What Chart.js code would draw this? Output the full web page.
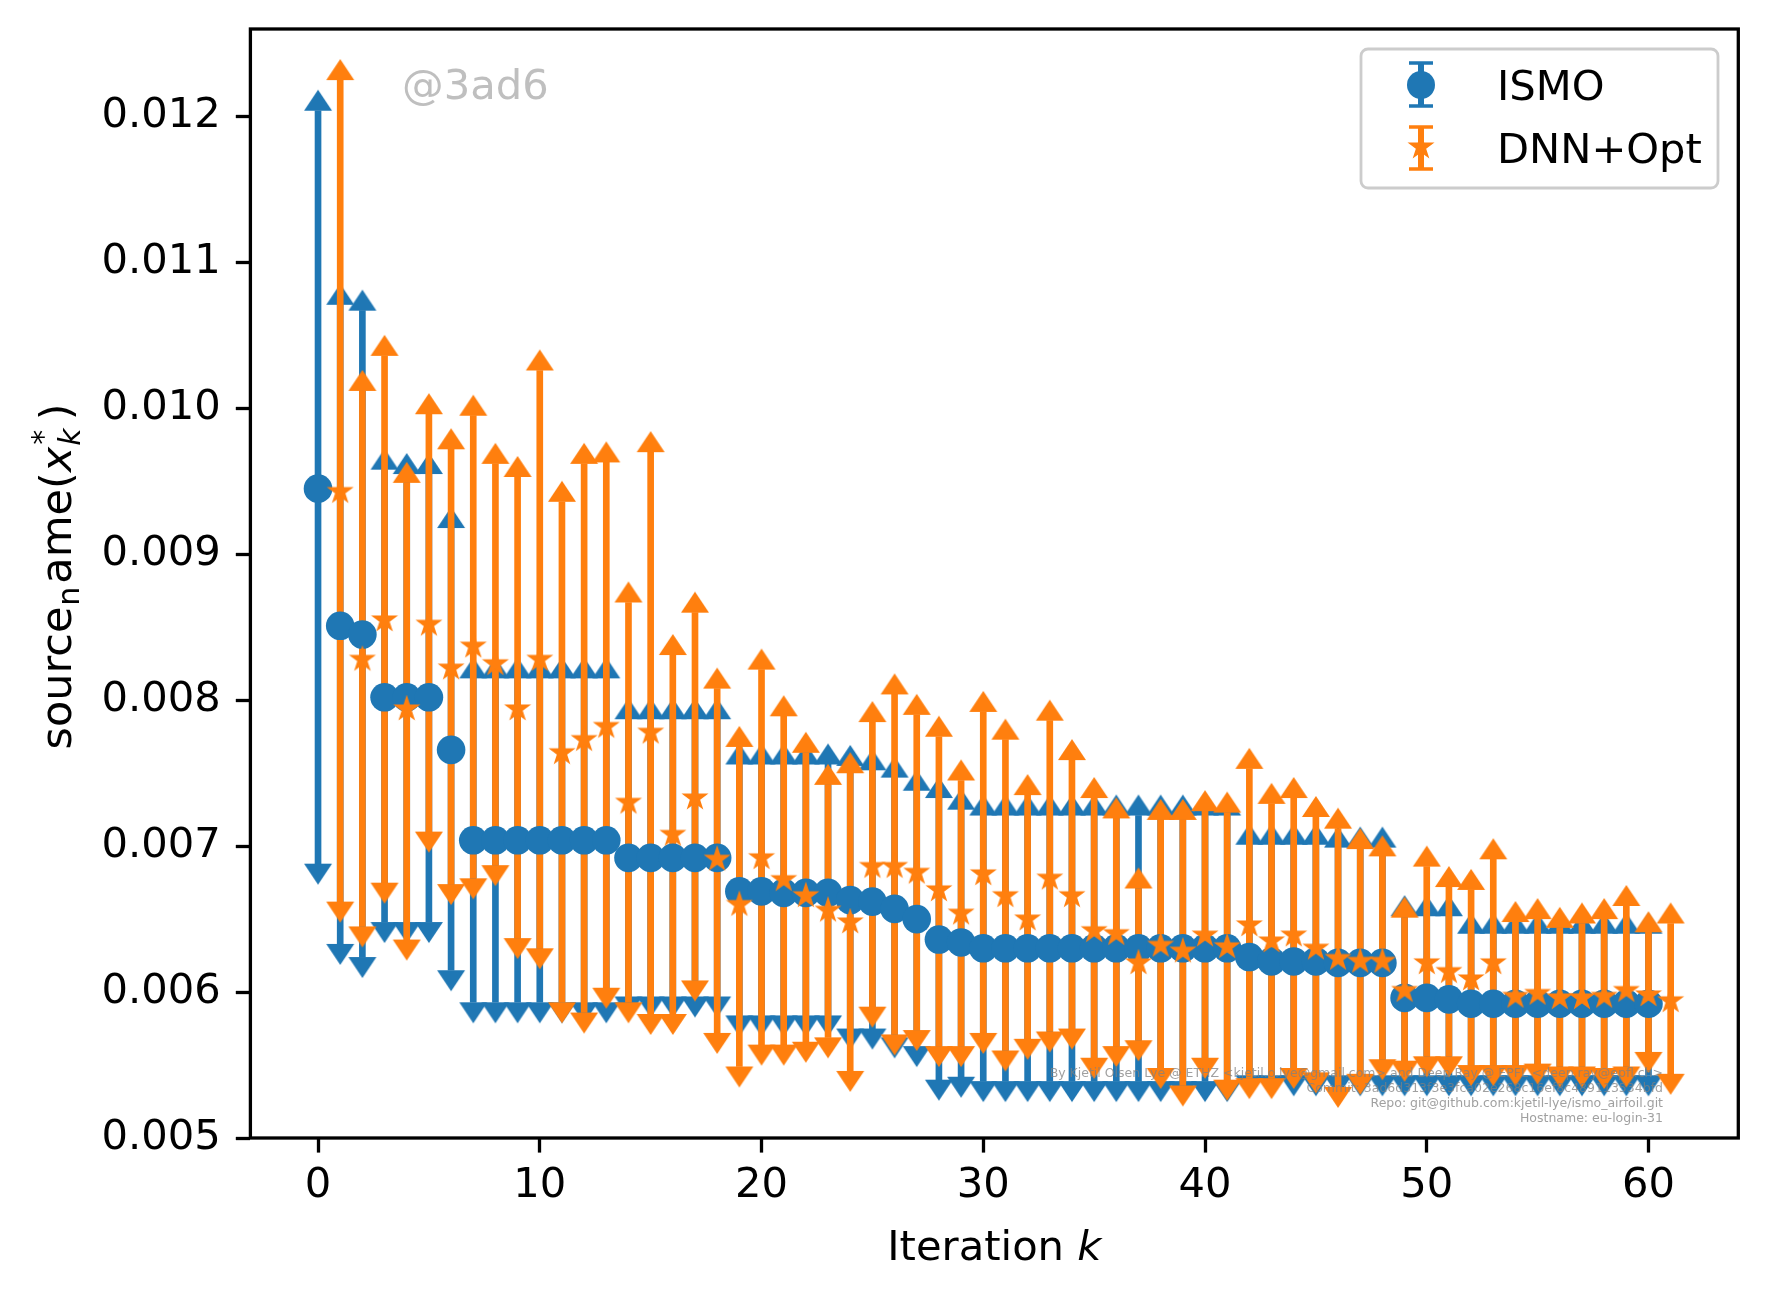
<!DOCTYPE html>
<html>
<head>
<meta charset="utf-8">
<script src="https://cdn.jsdelivr.net/npm/chart.js@4.4.1/dist/chart.umd.min.js"></script>
<style>
html,body{margin:0;padding:0;background:#ffffff;}
#wrap{width:1767px;height:1298px;position:relative;}
</style>
</head>
<body>
<div id="wrap"><canvas id="c" width="1767" height="1298"></canvas></div>
<script>
// ---------------- data ----------------
const seriesNames = ['ISMO', 'DNN+Opt'];

const ismoIter = [0,1,2,3,4,5,6,7,8,9,10,11,12,13,14,15,16,17,18,19,20,21,22,23,24,25,26,27,28,29,30,
  31,32,33,34,35,36,37,38,39,40,41,42,43,44,45,46,47,48,49,50,51,52,53,54,55,56,57,58,59,60];
const ismoMean = [0.00945,0.00851,0.00845,0.00802,0.00802,0.00802,0.00766,0.00704,0.00704,0.00704,
  0.00704,0.00704,0.00704,0.00704,0.00692,0.00692,0.00692,0.00692,0.00692,0.00669,
  0.00669,0.00668,0.00668,0.00668,0.00663,0.00662,0.00657,0.00650,0.00636,0.00634,
  0.00630,0.00630,0.00630,0.00630,0.00630,0.00630,0.00630,0.00630,0.00630,0.00630,
  0.00630,0.00630,0.00624,0.00621,0.00621,0.00621,0.00620,0.00620,0.00620,0.00596,
  0.00596,0.00595,0.00592,0.00592,0.00592,0.00592,0.00592,0.00592,0.00592,0.00592,0.00592];
const ismoUpper = [0.01204,0.01071,0.01067,0.00958,0.00955,0.00955,0.00918,0.00815,0.00815,0.00815,
  0.00815,0.00815,0.00815,0.00815,0.00787,0.00787,0.00787,0.00787,0.00787,0.00756,
  0.00756,0.00756,0.00756,0.00756,0.00755,0.00752,0.00747,0.00738,0.00733,0.00725,
  0.00721,0.00721,0.00721,0.00721,0.00721,0.00721,0.00721,0.00721,0.00721,0.00721,
  0.00721,0.00721,0.00701,0.00701,0.00701,0.00701,0.00699,0.00699,0.00699,0.00652,
  0.00652,0.00652,0.00640,0.00640,0.00640,0.00640,0.00640,0.00640,0.00640,0.00640,0.00640];
const ismoLower = [0.00688,0.00633,0.00624,0.00648,0.00648,0.00648,0.00615,0.00593,0.00593,0.00593,
  0.00593,0.00593,0.00593,0.00593,0.00597,0.00597,0.00597,0.00597,0.00597,0.00584,
  0.00584,0.00584,0.00584,0.00584,0.00575,0.00575,0.00569,0.00563,0.00540,0.00542,
  0.00539,0.00539,0.00539,0.00539,0.00539,0.00539,0.00539,0.00539,0.00539,0.00539,
  0.00539,0.00539,0.00543,0.00543,0.00543,0.00543,0.00543,0.00543,0.00543,0.00543,
  0.00543,0.00543,0.00543,0.00543,0.00543,0.00543,0.00543,0.00543,0.00543,0.00543,0.00543];

const dnnIter = [1,2,3,4,5,6,7,8,9,10,11,12,13,14,15,16,17,18,19,20,21,22,23,24,25,26,27,28,29,30,
  31,32,33,34,35,36,37,38,39,40,41,42,43,44,45,46,47,48,49,50,51,52,53,54,55,56,57,58,59,60,61];
const dnnMean = [0.00943,0.00828,0.00855,0.00794,0.00852,0.00822,0.00837,0.00825,0.00794,0.00828,
  0.00764,0.00773,0.00782,0.00730,0.00778,0.00708,0.00733,0.00691,0.00660,0.00692,
  0.00677,0.00666,0.00656,0.00648,0.00686,0.00686,0.00682,0.00670,0.00654,0.00681,
  0.00666,0.00650,0.00678,0.00666,0.00642,0.00640,0.00620,0.00632,0.00628,0.00639,
  0.00631,0.00646,0.00635,0.00639,0.00630,0.00623,0.00621,0.00621,0.00601,0.00620,
  0.00614,0.00609,0.00620,0.00597,0.00599,0.00596,0.00596,0.00597,0.00601,0.00598,0.00594];
const dnnUpper = [0.01225,0.01012,0.01036,0.00949,0.00996,0.00972,0.00995,0.00962,0.00953,0.01026,
  0.00936,0.00962,0.00963,0.00867,0.00970,0.00831,0.00860,0.00808,0.00768,0.00821,
  0.00789,0.00764,0.00742,0.00750,0.00785,0.00804,0.00790,0.00775,0.00745,0.00792,
  0.00773,0.00735,0.00786,0.00759,0.00733,0.00719,0.00671,0.00718,0.00718,0.00724,
  0.00723,0.00753,0.00729,0.00733,0.00720,0.00712,0.00698,0.00693,0.00651,0.00686,
  0.00672,0.00670,0.00691,0.00648,0.00650,0.00644,0.00647,0.00650,0.00659,0.00641,0.00647];
const dnnLower = [0.00662,0.00645,0.00675,0.00636,0.00710,0.00674,0.00678,0.00687,0.00637,0.00630,
  0.00593,0.00586,0.00603,0.00593,0.00585,0.00585,0.00608,0.00572,0.00549,0.00564,
  0.00564,0.00566,0.00569,0.00546,0.00590,0.00571,0.00574,0.00563,0.00563,0.00572,
  0.00560,0.00568,0.00573,0.00575,0.00555,0.00563,0.00567,0.00548,0.00536,0.00555,
  0.00540,0.00541,0.00541,0.00548,0.00545,0.00535,0.00544,0.00554,0.00553,0.00556,
  0.00556,0.00550,0.00550,0.00550,0.00551,0.00549,0.00549,0.00548,0.00549,0.00559,0.00544];

const xTicks = [0, 10, 20, 30, 40, 50, 60];
const yTicks = [0.005, 0.006, 0.007, 0.008, 0.009, 0.010, 0.011, 0.012];
const xRange = [-3.05, 64.05];
const yRange = [0.005, 0.0126];

const watermark = '@3ad6';
const infoLines = [
  'By Kjetil Olsen Lye @ ETHZ <kjetil.o.lye@gmail.com> and Deep Ray @ EPFL <deep.ray@epfl.ch>',
  'Commit: 3ad6d313f3e3fca02e268c16ef8c489113534bfd',
  'Repo: git@github.com:kjetil-lye/ismo_airfoil.git',
  'Hostname: eu-login-31'
];

// ---------------- styling ----------------
const BLUE = '#1f77b4';
const ORANGE = '#ff7f0e';
const FONT = "'DejaVu Sans', sans-serif";
const FS = 41.67;
const AXW = 3.3;

function makeCap(color, up) {
  const c = document.createElement('canvas');
  c.width = 30; c.height = 46;
  const g = c.getContext('2d');
  g.fillStyle = color;
  g.beginPath();
  g.moveTo(1, 23); g.lineTo(29, 23);
  g.lineTo(15, up ? 2 : 44);
  g.closePath(); g.fill();
  return c;
}
function starPath(g, cx, cy, R) {
  const r = R * 0.381966;
  g.beginPath();
  for (let k = 0; k < 10; k++) {
    const rad = (k % 2 === 0) ? R : r;
    const a = -Math.PI / 2 + k * Math.PI / 5;
    const px = cx + rad * Math.cos(a), py = cy + rad * Math.sin(a);
    if (k === 0) g.moveTo(px, py); else g.lineTo(px, py);
  }
  g.closePath();
}
function makeStar(color, R) {
  const c = document.createElement('canvas');
  c.width = 34; c.height = 34;
  const g = c.getContext('2d');
  g.fillStyle = color;
  starPath(g, 17, 17, R);
  g.fill();
  return c;
}
const capUpBlue = makeCap(BLUE, true), capDownBlue = makeCap(BLUE, false);
const capUpOrange = makeCap(ORANGE, true), capDownOrange = makeCap(ORANGE, false);
const starOrange = makeStar(ORANGE, 14.2);

function pts(xs, ys) { return xs.map((x, i) => ({ x: x, y: ys[i] })); }
function spans(xs, lo, hi) { return xs.map((x, i) => ({ x: x, y: [lo[i], hi[i]] })); }

const barCommon = { type: 'bar', borderWidth: 0, barThickness: 6, grouped: false };
const capCommon = { type: 'scatter', pointRadius: 14, borderWidth: 0, pointHoverRadius: 14 };

const datasets = [
  { type: 'scatter', label: seriesNames[1], data: pts(dnnIter, dnnMean), pointStyle: starOrange,
    pointRadius: 14, backgroundColor: ORANGE, borderWidth: 0, order: 1 },
  { type: 'scatter', label: seriesNames[0], data: pts(ismoIter, ismoMean), pointStyle: 'circle',
    pointRadius: 14.3, backgroundColor: BLUE, borderColor: BLUE, borderWidth: 0, order: 2 },
  Object.assign({ data: pts(dnnIter, dnnUpper), pointStyle: capUpOrange, order: 3 }, capCommon),
  Object.assign({ data: pts(dnnIter, dnnLower), pointStyle: capDownOrange, order: 3 }, capCommon),
  Object.assign({ data: spans(dnnIter, dnnLower, dnnUpper), backgroundColor: ORANGE, order: 4 }, barCommon),
  Object.assign({ data: pts(ismoIter, ismoUpper), pointStyle: capUpBlue, order: 5 }, capCommon),
  Object.assign({ data: pts(ismoIter, ismoLower), pointStyle: capDownBlue, order: 5 }, capCommon),
  Object.assign({ data: spans(ismoIter, ismoLower, ismoUpper), backgroundColor: BLUE, order: 6 }, barCommon)
];

function roundRect(ctx, x, y, w, h, r) {
  ctx.beginPath();
  ctx.moveTo(x + r, y);
  ctx.lineTo(x + w - r, y); ctx.arcTo(x + w, y, x + w, y + r, r);
  ctx.lineTo(x + w, y + h - r); ctx.arcTo(x + w, y + h, x + w - r, y + h, r);
  ctx.lineTo(x + r, y + h); ctx.arcTo(x, y + h, x, y + h - r, r);
  ctx.lineTo(x, y + r); ctx.arcTo(x, y, x + r, y, r);
  ctx.closePath();
}

const decor = {
  id: 'decor',
  afterDatasetsDraw(chart) {
    const ctx = chart.ctx, a = chart.chartArea;
    ctx.save();
    // watermark
    ctx.font = FS + 'px ' + FONT;
    ctx.fillStyle = 'rgba(128,128,128,0.5)';
    ctx.textAlign = 'left'; ctx.textBaseline = 'alphabetic';
    ctx.fillText(watermark, 402, 99);
    // info text
    ctx.font = '12.5px ' + FONT;
    ctx.fillStyle = 'rgba(128,128,128,0.75)';
    ctx.textAlign = 'right';
    infoLines.forEach((t, i) => ctx.fillText(t, 1663, 1077 + i * 15));
    // frame
    ctx.strokeStyle = '#000'; ctx.lineWidth = AXW;
    ctx.strokeRect(a.left, a.top, a.right - a.left, a.bottom - a.top);
    // legend
    roundRect(ctx, 1361, 49, 357, 139, 7);
    ctx.fillStyle = 'rgba(255,255,255,0.8)'; ctx.fill();
    ctx.strokeStyle = '#cccccc'; ctx.lineWidth = 2.8; ctx.stroke();
    const entries = [
      { label: seriesNames[0], color: BLUE, mk: 'circle', cy: 85, t: 63, b: 106, base: 100 },
      { label: seriesNames[1], color: ORANGE, mk: 'star', cy: 147, t: 127, b: 169, base: 163 }
    ];
    const ix = 1421;
    entries.forEach(e => {
      ctx.fillStyle = e.color;
      ctx.fillRect(ix - 3, e.t, 6, e.b - e.t);
      ctx.fillRect(ix - 12, e.t - 1.75, 24, 3.5);
      ctx.fillRect(ix - 12, e.b - 1.75, 24, 3.5);
      if (e.mk === 'circle') {
        ctx.beginPath(); ctx.arc(ix, e.cy, 14, 0, Math.PI * 2); ctx.fill();
      } else {
        starPath(ctx, ix, e.cy, 14.2); ctx.fill();
      }
      ctx.fillStyle = '#000';
      ctx.font = FS + 'px ' + FONT;
      ctx.textAlign = 'left'; ctx.textBaseline = 'alphabetic';
      ctx.fillText(e.label, 1497, e.base);
    });
    ctx.restore();
  },
  afterDraw(chart) {
    const ctx = chart.ctx, a = chart.chartArea;
    ctx.save();
    ctx.fillStyle = '#000';
    ctx.textBaseline = 'alphabetic';
    ctx.textAlign = 'left';
    // x axis title: Iteration k
    const reg = FS + 'px ' + FONT, ita = 'italic ' + FS + 'px ' + FONT;
    ctx.font = reg; const w1 = ctx.measureText('Iteration ').width;
    ctx.font = ita; const w2 = ctx.measureText('k').width;
    const cx = (a.left + a.right) / 2;
    let x0 = cx - (w1 + w2) / 2;
    ctx.font = reg; ctx.fillText('Iteration ', x0, 1260);
    ctx.font = ita; ctx.fillText('k', x0 + w1, 1260);
    // y axis title: source_name(x_k^*)
    const YF = 43;
    const yreg = YF + 'px ' + FONT, yita = 'italic ' + YF + 'px ' + FONT;
    const small = Math.round(YF * 0.7);
    const pieces = [
      [{ t: 'source', f: yreg, dy: 0 }],
      [{ t: 'n', f: small + 'px ' + FONT, dy: 8, gap: 1, after: 3 }],
      [{ t: 'ame(', f: yreg, dy: 0 }],
      [{ t: 'x', f: yita, dy: 0 }],
      [{ t: 'k', f: 'italic ' + small + 'px ' + FONT, dy: 9, gap: 1 }, { t: '*', f: small + 'px ' + FONT, dy: -18, gap: 2 }],
      [{ t: ')', f: yreg, dy: 0, gap: 8 }]
    ];
    let total = 0;
    const widths = pieces.map(g => {
      let w = 0;
      g.forEach(p => { ctx.font = p.f; w = Math.max(w, ctx.measureText(p.t).width + (p.gap || 0) + (p.after || 0)); });
      total += w; return w;
    });
    ctx.translate(71, (a.top + a.bottom) / 2 - 7);
    ctx.rotate(-Math.PI / 2);
    let px = -total / 2;
    pieces.forEach((g, i) => {
      g.forEach(p => { ctx.font = p.f; ctx.fillText(p.t, px + (p.gap || 0), p.dy); });
      px += widths[i];
    });
    ctx.restore();
  }
};

Chart.defaults.font.family = FONT;
Chart.defaults.font.size = FS;
Chart.defaults.color = '#000';

new Chart(document.getElementById('c'), {
  type: 'scatter',
  data: { datasets: datasets },
  options: {
    responsive: false,
    devicePixelRatio: 1,
    animation: false,
    events: [],
    layout: { padding: { left: 0, top: 29, right: 28.7, bottom: 0 } },
    plugins: { legend: { display: false }, tooltip: { enabled: false } },
    scales: {
      x: {
        type: 'linear', min: xRange[0], max: xRange[1], offset: false,
        afterBuildTicks: s => { s.ticks = xTicks.map(v => ({ value: v })); },
        afterFit: s => { s.height = 160; s.paddingLeft = 0; s.paddingRight = 0; },
        ticks: { padding: 9, maxRotation: 0, autoSkip: false, callback: v => String(v), color: '#000',
                 font: { size: FS } },
        grid: { display: true, drawOnChartArea: false, drawTicks: true, tickLength: 14.6, tickWidth: AXW,
                tickColor: '#000', offset: false },
        border: { display: false },
        title: { display: false }
      },
      y: {
        type: 'linear', min: yRange[0], max: yRange[1], beginAtZero: false, offset: false,
        afterBuildTicks: s => { s.ticks = yTicks.map(v => ({ value: v })); },
        afterFit: s => { s.width = 250.4; s.paddingTop = 0; s.paddingBottom = 0; },
        ticks: { padding: 15, autoSkip: false, callback: v => v.toFixed(3), color: '#000',
                 font: { size: FS } },
        grid: { display: true, drawOnChartArea: false, drawTicks: true, tickLength: 14.6, tickWidth: AXW,
                tickColor: '#000' },
        border: { display: false },
        title: { display: false }
      }
    }
  },
  plugins: [decor]
});
</script>
</body>
</html>
